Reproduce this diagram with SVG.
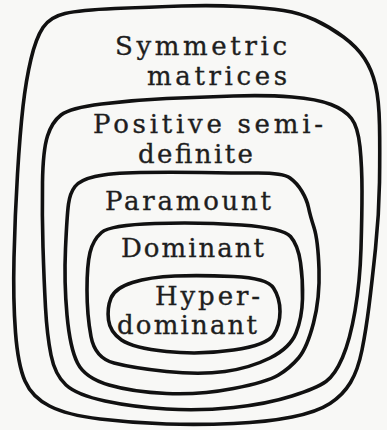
<svg xmlns="http://www.w3.org/2000/svg" width="387" height="430" viewBox="0 0 387 430">
<style>
.set{fill:none;stroke:#111;stroke-width:3.6;stroke-linejoin:round;stroke-linecap:round}
.lbl{font-family:"DejaVu Serif","Liberation Serif",serif;font-size:26px;fill:#1e1e1e;stroke:#1e1e1e;stroke-width:0.35}
</style>
<rect width="387" height="430" fill="#f8f8f6"/>
<g id="symmetric">
<path class="set" d="M181.5,6 Q213,5 240,6.5 Q267,8 283.5,10.5 Q300,13 315,20 Q330,27 343.5,37 Q357,47 364.5,58.5 Q372,70 375.5,85 Q379,100 379.5,125 Q380,150 379.5,182.5 Q379,215 375.5,248.5 Q372,282 369,306 Q366,330 362,350 Q358,370 350.5,382.5 Q343,395 330,403.5 Q317,412 292,417 Q267,422 233.5,423.5 Q200,425 166.5,424 Q133,423 100,419 Q67,415 49.5,406 Q32,397 25,381 Q18,365 15.5,332.5 Q13,300 14,257.5 Q15,215 17.5,174 Q20,133 23,106.5 Q26,80 31,59 Q36,38 43,27.5 Q50,17 65,13.5 Q80,10 115,8.5 Q150,7 181.5,6 Z"/>
<text class="lbl" x="115" y="55" textLength="172" lengthAdjust="spacing">Symmetric</text>
<text class="lbl" x="147" y="85" textLength="140" lengthAdjust="spacing">matrices</text>
</g>
<g id="positive-semidefinite">
<path class="set" d="M166.5,98.5 Q200,97 233.5,96 Q267,95 292,97 Q317,99 331,104.5 Q345,110 351.5,118.5 Q358,127 360,147 Q362,167 362,191 Q362,215 361,248.5 Q360,282 355,311 Q350,340 342.5,357.5 Q335,375 326,381.5 Q317,388 292,396 Q267,404 233.5,407.5 Q200,411 166.5,409 Q133,407 105,401 Q77,395 66,385 Q55,375 51,355 Q47,335 45.5,307.5 Q44,280 43,247.5 Q42,215 42.5,182.5 Q43,150 47.5,136 Q52,122 61,115 Q70,108 101.5,104 Q133,100 166.5,98.5 Z"/>
<text class="lbl" x="93" y="133" textLength="230" lengthAdjust="spacing">Positive semi-</text>
<text class="lbl" x="138" y="163" textLength="115" lengthAdjust="spacing">definite</text>
</g>
<g id="paramount">
<path class="set" d="M140,172.5 Q170,172 201.5,172.5 Q233,173 258,173 Q283,173 290,178 Q297,183 302,191.5 Q307,200 308.5,207.5 Q310,215 314,227.5 Q318,240 319,269 Q320,298 313.5,323 Q307,348 298.5,358 Q290,368 278.5,375 Q267,382 233.5,388.5 Q200,395 166.5,393.5 Q133,392 109,385 Q85,378 77.5,363 Q70,348 67,315 Q64,282 65.5,248.5 Q67,215 68.5,204 Q70,193 75,186.5 Q80,180 95,176.5 Q110,173 140,172.5 Z"/>
<text class="lbl" x="105" y="210" textLength="166" lengthAdjust="spacing">Paramount</text>
</g>
<g id="dominant">
<path class="set" d="M155,223.5 Q200,222 241.5,225 Q283,228 290.5,236.5 Q298,245 300.5,262.5 Q303,280 302.5,299 Q302,318 296,333 Q290,348 270,358 Q250,368 225,371.5 Q200,375 166.5,371.5 Q133,368 114,363 Q95,358 91,336.5 Q87,315 87,290 Q87,265 90,252.5 Q93,240 101.5,232.5 Q110,225 155,223.5 Z"/>
<text class="lbl" x="121" y="257" textLength="143" lengthAdjust="spacing">Dominant</text>
</g>
<g id="hyperdominant">
<path class="set" d="M175,276 Q200,275 233.5,276.5 Q267,278 273.5,288 Q280,298 280,311.5 Q280,325 273.5,335 Q267,345 233.5,350 Q200,355 166.5,351.5 Q133,348 121.5,340 Q110,332 108.5,320 Q107,308 111,298 Q115,288 132.5,282.5 Q150,277 175,276 Z"/>
<text class="lbl" x="155" y="305" textLength="105" lengthAdjust="spacing">Hyper-</text>
<text class="lbl" x="117" y="334" textLength="140" lengthAdjust="spacing">dominant</text>
</g>
<g id="connectors"/>
</svg>
